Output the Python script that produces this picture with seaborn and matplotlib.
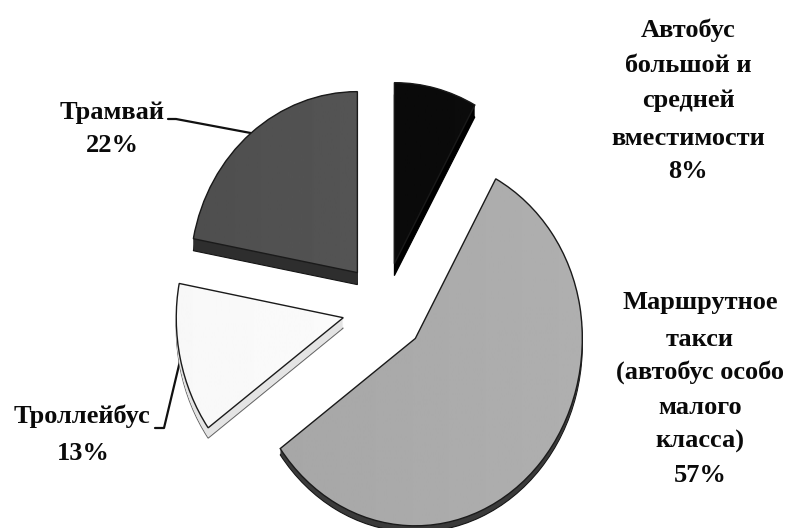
import warnings
import numpy as np
import matplotlib
matplotlib.use("Agg")
import matplotlib.pyplot as plt
import seaborn as sns

# Fares share by transport mode, clockwise from twelve o'clock
modes = ["Автобус большой и средней вместимости",
         "Маршрутное такси (автобус особо малого класса)",
         "Троллейбус", "Трамвай"]
shares = [8, 57, 13, 22]

top_colors = sns.color_palette(["#0a0a0a", "#aaaaaa", "#fbfbfb", "#575757"])
side_colors = sns.color_palette(["#000000", "#3a3a3a", "#e4e4e4", "#2e2e2e"])
side_edges = ["#000000", "#151515", "#6a6a6a", "#151515"]
# Left and right shades of the soft light falling across each top face
shade_low = [0.03, 0.64, 0.97, 0.30]
shade_high = [0.05, 0.69, 1.00, 0.37]
side_depth_px = [12, 6, 10, 12]

W, H = 792, 528
CX, CY = 384, 307.5      # pie centre in pixels
RX, RY = 167, 181        # flattened radii in pixels
EXPLODE = 0.25
NEAR_STRETCH = 1.035     # the near half of the tilted disc looks a little larger

sns.set_theme(style="white")
plt.rcParams["font.family"] = ["Liberation Serif", "DejaVu Serif"]

fig = plt.figure(figsize=(W / 100, H / 100), dpi=100, facecolor="white")
ax = fig.add_axes([0, 0, 1, 1])

pie_args = dict(explode=[EXPLODE] * len(shares), startangle=90,
                counterclock=False, radius=1, normalize=True)

# Extruded sides: stacked copies of the pie, deepest first
for d in range(max(side_depth_px), 0, -1):
    wedges, _ = ax.pie(shares, colors=side_colors, center=(0, -d / RY),
                       wedgeprops=dict(linewidth=0, zorder=2), **pie_args)
    for w, depth, edge in zip(wedges, side_depth_px, side_edges):
        if d > depth:
            w.remove()
        elif d == depth:
            w.set_edgecolor(edge)
            w.set_linewidth(0.8)

# Top faces
faces, _ = ax.pie(shares, colors=top_colors,
                  wedgeprops=dict(linewidth=0, zorder=3), **pie_args)

# Gentle shading, clipped to each face
ramp = np.linspace(0, 1, 256).reshape(1, -1)
for w, lo, hi in zip(faces, shade_low, shade_high):
    im = ax.imshow(lo + (hi - lo) * ramp, cmap="gray", vmin=0, vmax=1,
                   extent=(-1.4, 1.4, -1.4, 1.4), aspect="auto", zorder=4)
    im.set_clip_path(w)

# Outlines above the shading
ax.pie(shares, colors=top_colors,
       wedgeprops=dict(fill=False, edgecolor="#1a1a1a", linewidth=1.0, zorder=5),
       **pie_args)

ax.set_aspect("auto")
ax.set_xlim((0 - CX) / RX, (W - CX) / RX)
ax.set_yscale("function", functions=(
    lambda y: np.where(y < 0, y * NEAR_STRETCH, y),
    lambda y: np.where(y < 0, y / NEAR_STRETCH, y)))
ax.set_ylim((CY - H) / RY / NEAR_STRETCH, CY / RY)
ax.axis("off")


def label(px, py, s):
    ax.text(px / W, 1 - py / H, s, transform=ax.transAxes, ha="center",
            va="center", fontsize=19, fontweight="bold", color="#0a0a0a",
            zorder=6)


def leader(xs, ys):
    ax.plot(np.array(xs) / W, 1 - np.array(ys) / H, transform=ax.transAxes,
            color="#111111", lw=1.6, zorder=1, solid_joinstyle="round")


# Category labels, wrapped by hand
for py, s in zip([30, 65, 100, 139, 171],
                 ["Автобус", "большой и", "средней", "вместимости",
                  f"{shares[0]}%"]):
    label(688, py, s)

for py, s in zip([302, 339, 372, 407, 441, 476],
                 ["Маршрутное", "такси", "(автобус особо", "малого",
                  "класса)", f"{shares[1]}%"]):
    label(700, py, s)

label(82, 416, modes[2])
label(83, 453, f"{shares[2]}%")
label(112, 112, modes[3])
label(112, 145, f"{shares[3]}%")

leader([155, 164, 180], [428, 428, 361])
leader([168, 176, 256], [119, 119, 134])

sns.despine(ax=ax, left=True, bottom=True)
with warnings.catch_warnings():
    warnings.simplefilter("ignore")
    fig.savefig("out.png", dpi=100, facecolor="white")
